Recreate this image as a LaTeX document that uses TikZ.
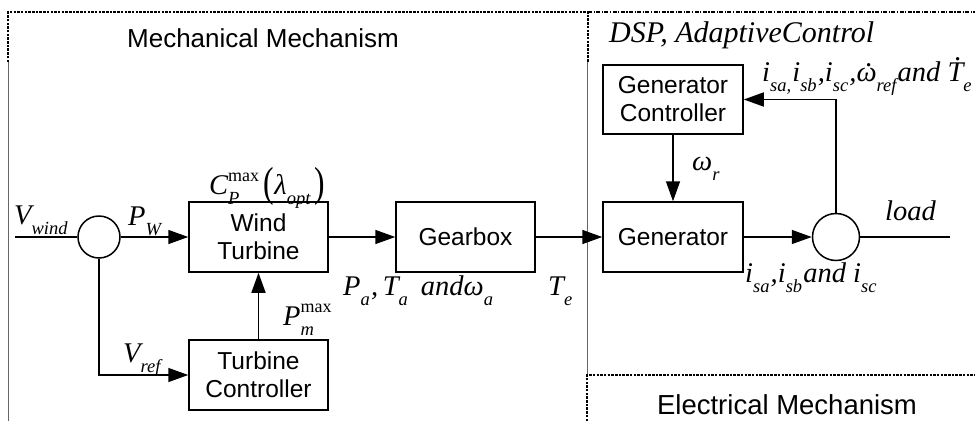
\documentclass[tikz,border=0pt]{standalone}
\usepackage{fontspec}
\setmainfont{Liberation Sans}
\newfontfamily\tms{Liberation Serif}
\usetikzlibrary{arrows.meta}
\newcommand\lsub[2]{#1\raisebox{-0.36em}{\fontsize{18.5}{18.5}\selectfont #2}\kern0.04em}
\newcommand\lsupsub[3]{#1\rlap{\raisebox{-0.36em}{\fontsize{18.5}{18.5}\selectfont #3}}\raisebox{0.45em}{\fontsize{18}{18}\selectfont\upshape #2}}
\newcommand\dotacc[2]{\setbox0\hbox{#2}\rlap{\hbox to\wd0{\hss\kern0.2em\raisebox{#1}{.}\hss}}\box0}
\newcommand\bigpar[1]{\raisebox{-0.1em}{\scalebox{0.75}[1]{\fontsize{42}{42}\selectfont\upshape #1}}}
\tikzset{
  block/.style={draw, line width=1.5pt, minimum width=139pt, minimum height=70pt, align=center, inner sep=0pt, font=\fontsize{24.5}{28}\selectfont},
  sumc/.style={circle, draw, line width=1.5pt, inner sep=0pt},
  arr/.style={line width=1.5pt, -{Triangle[length=20pt,width=14pt]}},
  wire/.style={line width=1.5pt},
  lab/.style={inner sep=0pt, anchor=base west, font=\tms\itshape\fontsize{28.5}{28.5}\selectfont},
  regline/.style={line width=0.9pt, draw=black!60},
  dsh/.style={line width=1.5pt, dash pattern=on 2.5pt off 1.2pt},
  dshdot/.style={line width=1.1pt, dash pattern=on 4pt off 1.5pt on 1.2pt off 1.5pt},
  titlet/.style={inner sep=0pt, font=\fontsize{26}{26}\selectfont}
}
\begin{document}
\begin{tikzpicture}[x=1pt,y=-1pt]
\useasboundingbox (0,0) rectangle (975,421);
% regions
\draw[regline] (8,62) -- (8,421);
\draw[regline] (587,62) -- (587,375);
\draw[dsh] (8,62) -- (8,12) -- (588,12) -- (588,62);
\draw[dshdot] (588,12) -- (975,12);
\draw[dsh] (587,421) -- (587,375) -- (975,375);
\node[titlet] (mt) at (263,38) {Mechanical Mechanism};
\node[titlet, font=\fontsize{27.5}{27.5}\selectfont] (et) at (787,405) {Electrical Mechanism};
% blocks
\node[block] (WT) at (258.5,237) {Wind\\Turbine};
\node[block] (GB) at (465.5,237) {Gearbox};
\node[block, minimum width=140pt] (Gen) at (673,237) {Generator};
\node[block, minimum width=140pt, minimum height=69pt] (GC) at (673,99.5) {Generator\\Controller};
\node[block] (TC) at (258.5,375) {Turbine\\Controller};
\node[sumc, minimum size=42pt] (c1) at (99,237) {};
\node[sumc, minimum size=47pt] (c2) at (836,237) {};
% connectors
\coordinate (vw) at (15,237);
\coordinate (ld) at (950,237);
\draw[wire] (vw) -- (c1);
\draw[arr] (c1) -- (WT);
\draw[arr] (WT) -- (GB);
\draw[arr] (GB) -- (Gen);
\draw[arr] (Gen) -- (c2);
\draw[wire] (c2) -- (ld);
\draw[arr] (GC) -- (Gen);
\draw[arr] (c2.north) |- (GC.east);
\draw[arr] (c1.south) |- (TC.west);
\draw[arr] (TC) -- (WT);
% labels
\node[lab] (lvw) at (14,224) {\lsub{V}{wind}};
\node[lab] (lpw) at (128,225) {\lsub{P}{W}};
\node[lab] (lcp) at (209,194) {\lsupsub{C}{max}{P}\,\bigpar{(}\lsub{λ}{opt}\kern0.12em\bigpar{)}};
\node[lab] (lpm) at (283,325) {\lsupsub{P}{max}{m}};
\node[lab] (lvr) at (123,362) {\lsub{V}{ref}};
\node[lab] (lpa) at (343,295) {\lsub{P}{a},\,\lsub{T}{a}\, and\lsub{ω}{a}};
\node[lab] (lte) at (548,295) {\lsub{T}{e}};
\node[lab] (lwr) at (692,170) {\lsub{ω}{r}};
\node[lab] (lfb) at (762,81) {\lsub{i}{sa,}\lsub{i}{sb},\lsub{i}{sc},\lsub{\dotacc{0.5em}{ω}}{ref}and \lsub{\dotacc{0.72em}{T}}{e}};
\node[lab] (lld) at (885,220) {load};
\node[lab] (lis) at (745,282) {\lsub{i}{sa},\lsub{i}{sb}and \lsub{i}{sc}};
\node[lab, font=\tms\itshape\fontsize{30}{30}\selectfont] (ldsp) at (609,42) {DSP, AdaptiveControl};
\end{tikzpicture}
\end{document}
